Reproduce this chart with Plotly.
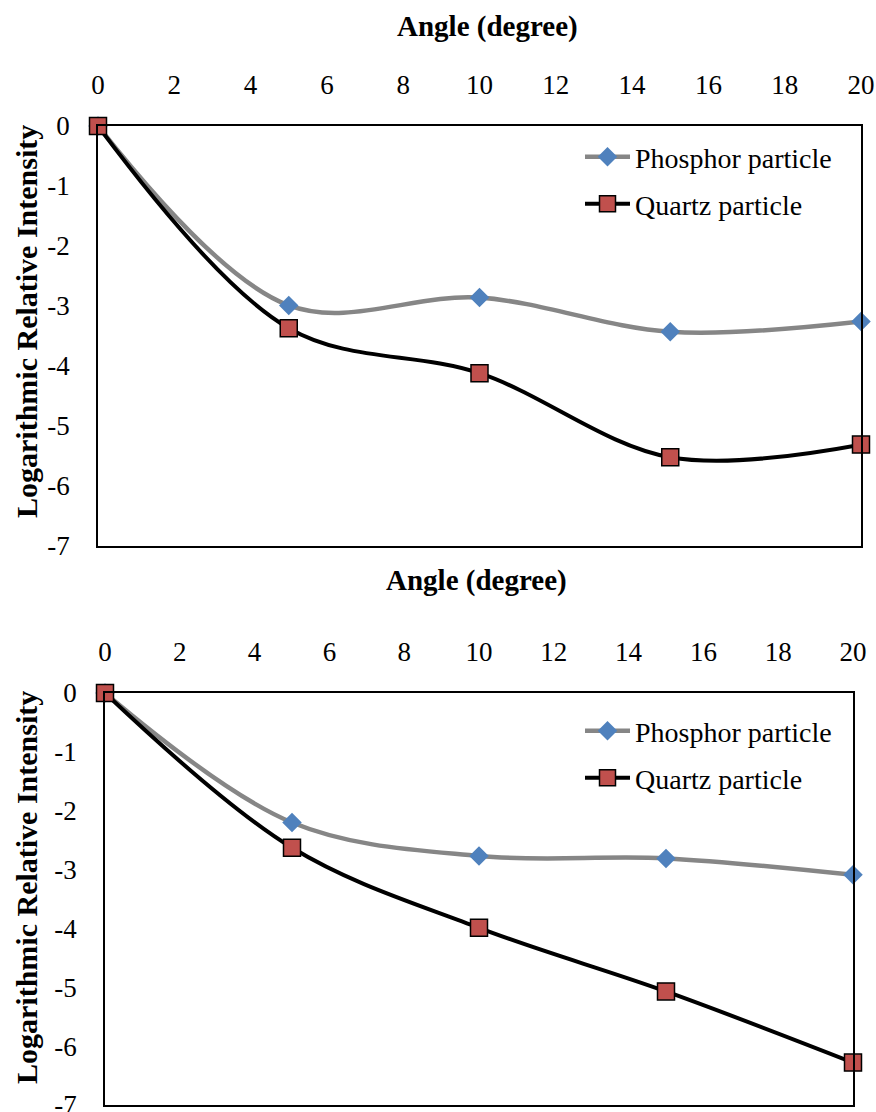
import plotly.graph_objects as go

# Angles (degree) at which intensity was measured
angles = [0, 5, 10, 15, 20]

# Upper panel: logarithmic relative intensity
phosphor_top = [0, -2.99, -2.86, -3.43, -3.26]
quartz_top = [0, -3.37, -4.12, -5.52, -5.31]

# Lower panel: logarithmic relative intensity
phosphor_bottom = [0, -2.20, -2.77, -2.81, -3.09]
quartz_bottom = [0, -2.63, -3.99, -5.07, -6.28]

x_ticks = [0, 2, 4, 6, 8, 10, 12, 14, 16, 18, 20]
y_ticks = [0, -1, -2, -3, -4, -5, -6, -7]
y_tick_text = ["0", "-1", "-2", "-3", "-4", "-5", "-6", "-7"]

series_names = ["Phosphor particle", "Quartz particle"]
axis_x_title = "Angle (degree)"
axis_y_title = "Logarithmic Relative Intensity"

W, H = 876, 1112
FONT = "Liberation Serif"

GRAY = "#868686"
BLUE = "#4F81BD"
RED = "#C0504D"


def px_x(v):
    return v / W


def px_y(v):
    return 1 - v / H


fig = go.Figure()


def add_pair(phos, quartz, xa, ya, leg_a, leg_b):
    fig.add_trace(go.Scatter(
        x=angles, y=phos, name=series_names[0], xaxis=xa, yaxis=ya,
        mode="lines+markers", line=dict(color=GRAY, width=4.5, shape="spline", smoothing=1.0),
        marker=dict(symbol="diamond", size=15, color=BLUE, line=dict(width=0)),
        cliponaxis=False, legend=leg_a, showlegend=True,
    ))
    fig.add_trace(go.Scatter(
        x=angles, y=quartz, name=series_names[1], xaxis=xa, yaxis=ya,
        mode="lines+markers", line=dict(color="black", width=4, shape="spline", smoothing=1.0),
        marker=dict(symbol="square", size=17, color=RED, line=dict(width=1.5, color="black")),
        cliponaxis=False, legend=leg_b, showlegend=True,
    ))


add_pair(phosphor_top, quartz_top, "x", "y", "legend", "legend2")
add_pair(phosphor_bottom, quartz_bottom, "x2", "y2", "legend3", "legend4")

xaxis_common = dict(
    range=[0, 20], tickvals=x_ticks, side="top", showline=True, mirror=True,
    linecolor="black", linewidth=1.5, showgrid=False, zeroline=False, ticks="",
    tickfont=dict(family=FONT, size=27, color="black"), ticklabelstandoff=19,
    automargin=False, ticklabeloverflow="allow",
)
yaxis_common = dict(
    range=[-7, 0], tickvals=y_ticks, ticktext=y_tick_text, showline=True, mirror=True,
    linecolor="black", linewidth=1.5, showgrid=False, zeroline=False, ticks="",
    tickfont=dict(family=FONT, size=27, color="black"), ticklabelstandoff=21,
    automargin=False, ticklabeloverflow="allow",
)

# Panel rectangles in pixels: left, right, top, bottom
top_box = (98, 861, 126, 546)
bot_box = (105, 853, 693, 1105)

fig.update_layout(
    width=W, height=H, autosize=False, showlegend=True,
    margin=dict(l=0, r=0, t=0, b=0, autoexpand=False),
    paper_bgcolor="white", plot_bgcolor="white",
    font=dict(family=FONT, color="black"),
    xaxis=dict(xaxis_common, domain=[px_x(top_box[0]), px_x(top_box[1])], anchor="y"),
    yaxis=dict(yaxis_common, domain=[px_y(top_box[3]), px_y(top_box[2])], anchor="x"),
    xaxis2=dict(xaxis_common, domain=[px_x(bot_box[0]), px_x(bot_box[1])], anchor="y2"),
    yaxis2=dict(yaxis_common, domain=[px_y(bot_box[3]), px_y(bot_box[2])], anchor="x2"),
)

legend_style = dict(
    xanchor="left", yanchor="middle", bgcolor="rgba(0,0,0,0)", borderwidth=0,
    font=dict(family=FONT, size=28, color="black"), itemwidth=45,
)
fig.update_layout(
    legend=dict(legend_style, x=px_x(580), y=px_y(157)),
    legend2=dict(legend_style, x=px_x(580), y=px_y(204)),
    legend3=dict(legend_style, x=px_x(580), y=px_y(731)),
    legend4=dict(legend_style, x=px_x(580), y=px_y(778)),
)

title_font = dict(family=FONT, size=29, color="black")
axis_title_font = dict(family=FONT, size=30, color="black")
annotations = [
    dict(text="<b>%s</b>" % axis_x_title, x=px_x(487), y=px_y(27), font=title_font),
    dict(text="<b>%s</b>" % axis_x_title, x=px_x(477), y=px_y(580), font=title_font),
    dict(text="<b>%s</b>" % axis_y_title, x=px_x(26), y=px_y(322), textangle=-90,
         font=axis_title_font),
    dict(text="<b>%s</b>" % axis_y_title, x=px_x(26), y=px_y(888), textangle=-90,
         font=axis_title_font),
]
for a in annotations:
    fig.add_annotation(xref="paper", yref="paper", showarrow=False,
                       xanchor="center", yanchor="middle", **a)

fig.write_html("out.html")
